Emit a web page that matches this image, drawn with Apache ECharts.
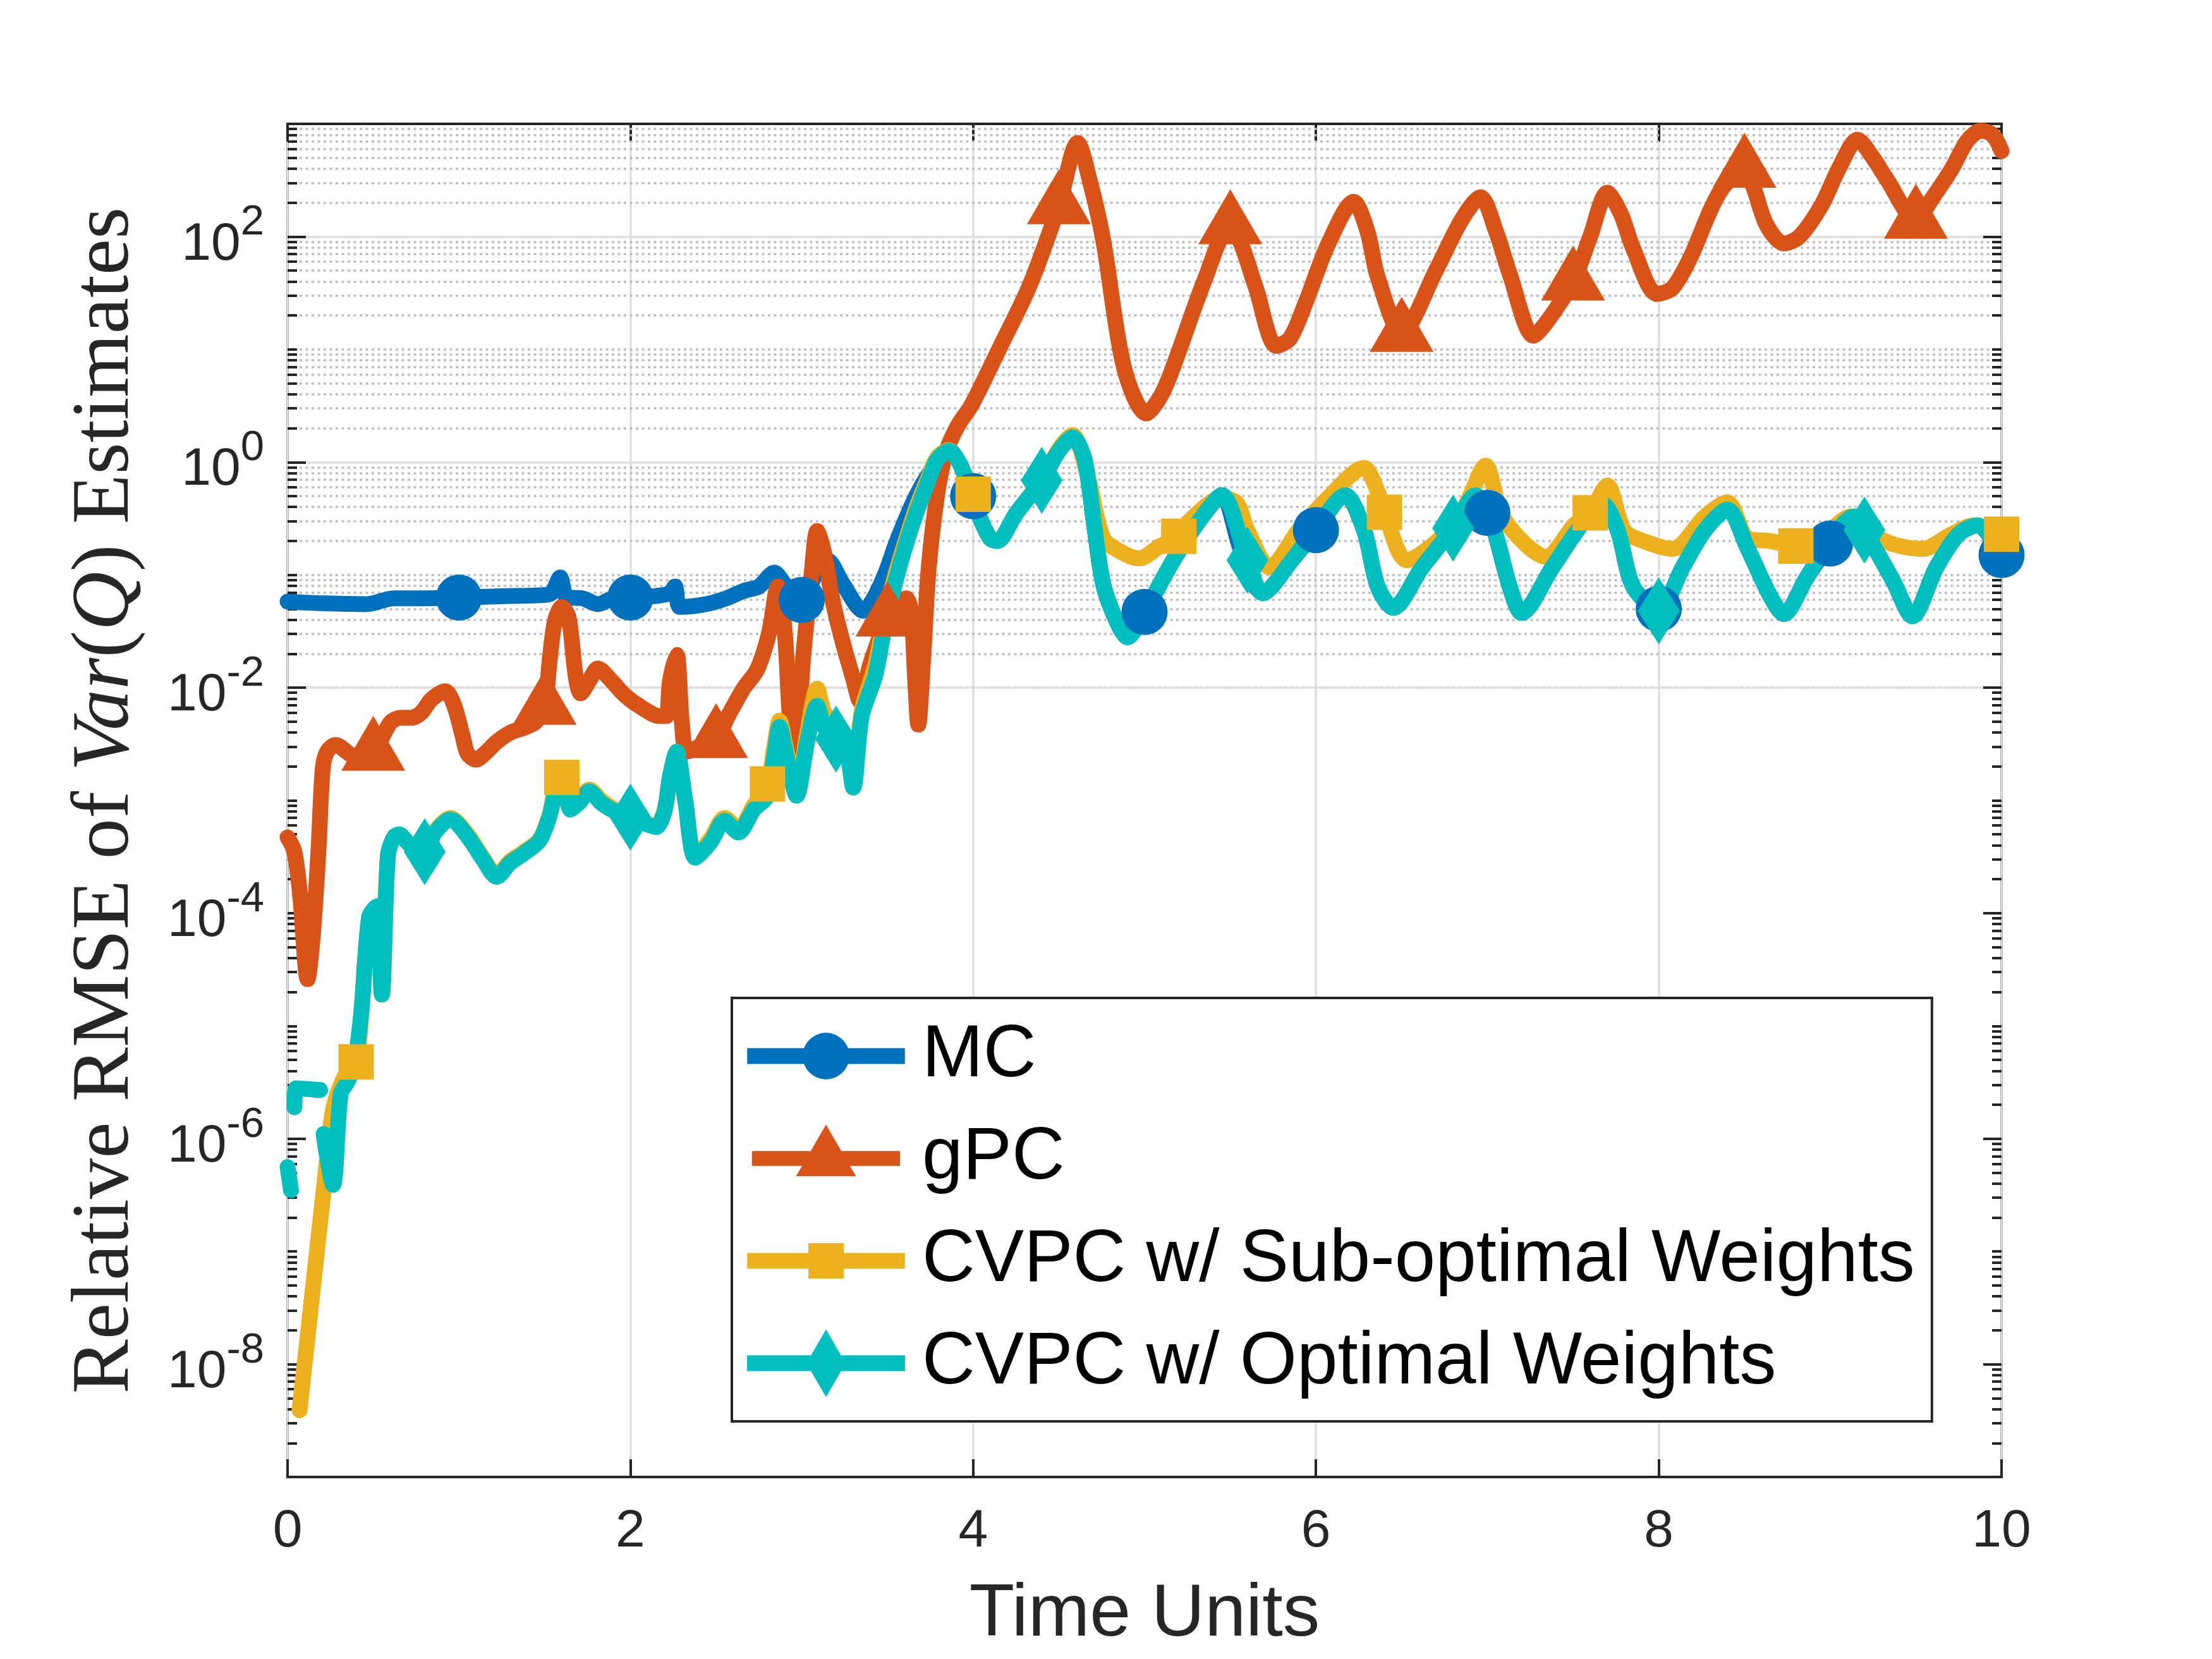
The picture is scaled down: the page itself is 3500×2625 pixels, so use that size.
<!DOCTYPE html>
<html>
<head>
<meta charset="utf-8">
<script src="https://cdn.jsdelivr.net/npm/echarts@6/dist/echarts.min.js"></script>
<style>html,body{margin:0;padding:0;background:#fff}#c{width:3500px;height:2625px}</style>
</head>
<body>
<div id="c"></div>
<script>
// ---------- data (time, relative RMSE) ----------
const seriesNames = ['MC', 'gPC', 'CVPC w/ Sub-optimal Weights', 'CVPC w/ Optimal Weights'];
const xTickValues = [0, 2, 4, 6, 8, 10];
const yLabelExponents = [-8, -6, -4, -2, 0, 2];

const mcData = [
[0,0.058],[0.2,0.056],[0.46,0.055],[0.62,0.062],[0.8,0.062],[1.0,0.063],[1.3,0.065],[1.47,0.066],[1.54,0.069],[1.59,0.095],[1.63,0.063],[1.72,0.062],[1.81,0.055],[1.9,0.062],[2.0,0.063],[2.15,0.065],[2.23,0.069],[2.26,0.079],[2.29,0.052],[2.44,0.055],[2.56,0.062],[2.66,0.072],[2.75,0.079],[2.84,0.105],[2.9,0.083],[3.0,0.060],[3.08,0.10],[3.15,0.135],[3.24,0.083],[3.36,0.048],[3.42,0.062],[3.49,0.105],[3.55,0.19],[3.61,0.32],[3.67,0.51],[3.74,0.78],[3.82,1.15],[3.86,1.23],[3.92,0.98],[4.0,0.5],[4.04,0.32],[4.10,0.21],[4.14,0.20],[4.25,0.35],[4.4,0.69],[4.5,1.26],[4.58,1.66],[4.65,1.05],[4.71,0.25],[4.76,0.081],[4.84,0.038],[4.90,0.028],[5.0,0.047],[5.18,0.145],[5.35,0.35],[5.45,0.51],[5.56,0.17],[5.69,0.069],[5.86,0.135],[6.0,0.25],[6.17,0.51],[6.28,0.25],[6.36,0.079],[6.45,0.051],[6.62,0.117],[6.8,0.26],[6.93,0.51],[7.0,0.355],[7.04,0.25],[7.13,0.079],[7.20,0.046],[7.38,0.117],[7.55,0.28],[7.67,0.43],[7.76,0.25],[7.85,0.079],[8.0,0.05],[8.14,0.117],[8.27,0.25],[8.40,0.38],[8.52,0.17],[8.65,0.065],[8.73,0.045],[8.86,0.093],[9.0,0.19],[9.14,0.33],[9.2,0.25],[9.37,0.087],[9.48,0.043],[9.62,0.117],[9.75,0.23],[9.86,0.275],[10.0,0.15]
];
const gpcData = [
[0,4.7e-4],[0.04,3.5e-4],[0.074,1.4e-4],[0.117,2.6e-5],[0.148,6.5e-5],[0.18,3.5e-4],[0.205,1.9e-3],[0.23,2.7e-3],[0.28,3.1e-3],[0.39,2.5e-3],[0.5,2.7e-3],[0.6,4.9e-3],[0.66,5.4e-3],[0.72,5.4e-3],[0.78,6.0e-3],[0.84,7.9e-3],[0.92,9.3e-3],[0.97,7.1e-3],[1.02,3.8e-3],[1.05,2.6e-3],[1.10,2.3e-3],[1.15,2.6e-3],[1.22,3.3e-3],[1.30,4.0e-3],[1.38,4.4e-3],[1.45,5.0e-3],[1.5,6.9e-3],[1.53,0.018],[1.56,0.039],[1.60,0.052],[1.64,0.042],[1.68,0.013],[1.71,8.9e-3],[1.76,0.0115],[1.81,0.0148],[1.89,0.0115],[1.97,8.5e-3],[2.07,6.6e-3],[2.17,5.6e-3],[2.21,5.6e-3],[2.23,0.0112],[2.27,0.0195],[2.30,5.0e-3],[2.33,2.7e-3],[2.4,3.0e-3],[2.5,3.5e-3],[2.57,5.6e-3],[2.66,9.8e-3],[2.74,0.0145],[2.81,0.031],[2.86,0.079],[2.90,0.032],[2.93,5.6e-3],[2.96,2.3e-3],[3.01,0.020],[3.06,0.112],[3.09,0.245],[3.13,0.158],[3.18,0.059],[3.24,0.025],[3.30,0.012],[3.34,7.6e-3],[3.40,0.0162],[3.5,0.042],[3.55,0.055],[3.61,0.062],[3.64,0.045],[3.66,0.013],[3.68,4.7e-3],[3.71,0.020],[3.74,0.112],[3.79,0.51],[3.84,1.2],[3.91,2.1],[3.99,3.2],[4.16,10.7],[4.33,37],[4.5,190],[4.61,676],[4.68,316],[4.76,91],[4.88,6.9],[5.01,2.7],[5.10,4.0],[5.18,7.9],[5.35,41],[5.5,126],[5.56,89],[5.65,35],[5.77,10.7],[5.85,12.6],[5.94,26],[6.07,85],[6.22,204],[6.30,112],[6.36,44],[6.5,14],[6.70,50],[6.85,141],[6.96,224],[7.05,112],[7.13,47],[7.27,13.2],[7.35,17.8],[7.5,40],[7.60,100],[7.70,245],[7.78,158],[7.85,79],[7.99,31],[8.08,35],[8.18,63],[8.35,240],[8.5,400],[8.55,282],[8.63,126],[8.73,87],[8.82,100],[8.95,190],[9.05,400],[9.16,724],[9.25,500],[9.33,324],[9.5,141],[9.6,224],[9.71,400],[9.80,708],[9.88,871],[9.95,794],[10.0,575]
];
const subData = [
[0.07,3.9e-9],[0.22,4.7e-7],[0.265,1.8e-6],[0.33,3.5e-6],[0.4,4.8e-6],[0.43,1.3e-5],[0.476,9.3e-5],[0.52,1.15e-4],[0.55,1.9e-5],[0.585,3.2e-4],[0.62,4.7e-4],[0.65,5.0e-4],[0.71,4.1e-4],[0.8,3.6e-4],[0.86,5.3e-4],[0.95,7.0e-4],[1.05,5.0e-4],[1.14,3.1e-4],[1.22,2.2e-4],[1.30,2.9e-4],[1.38,3.5e-4],[1.47,4.5e-4],[1.53,7.6e-4],[1.56,1.25e-3],[1.6,1.6e-3],[1.62,1.5e-3],[1.65,9.0e-4],[1.70,1.0e-3],[1.76,1.25e-3],[1.83,1.0e-3],[1.89,8.6e-4],[2.0,7.3e-4],[2.09,6.3e-4],[2.15,5.9e-4],[2.20,8.3e-4],[2.23,1.6e-3],[2.27,2.7e-3],[2.32,1.0e-3],[2.38,3.2e-4],[2.47,4.6e-4],[2.55,7.0e-4],[2.63,5.6e-4],[2.72,9.0e-4],[2.8,1.4e-3],[2.84,3.0e-3],[2.87,5.1e-3],[2.91,2.8e-3],[2.97,1.2e-3],[3.03,3.8e-3],[3.09,9.8e-3],[3.13,6.0e-3],[3.17,5.2e-3],[3.21,2.8e-3],[3.26,3.0e-3],[3.30,1.4e-3],[3.35,6.2e-3],[3.43,0.016],[3.49,0.046],[3.55,0.105],[3.61,0.21],[3.67,0.40],[3.73,0.68],[3.79,1.1],[3.86,1.28],[3.92,0.98],[4.0,0.52],[4.04,0.32],[4.10,0.21],[4.14,0.20],[4.25,0.35],[4.4,0.7],[4.5,1.3],[4.58,1.74],[4.67,0.74],[4.76,0.21],[4.88,0.155],[4.97,0.14],[5.09,0.18],[5.2,0.22],[5.26,0.30],[5.45,0.48],[5.54,0.43],[5.60,0.25],[5.73,0.117],[5.90,0.25],[6.07,0.48],[6.28,0.89],[6.36,0.55],[6.4,0.36],[6.53,0.135],[6.70,0.195],[6.87,0.41],[6.99,0.93],[7.08,0.35],[7.21,0.195],[7.34,0.145],[7.51,0.28],[7.6,0.355],[7.70,0.62],[7.80,0.245],[7.93,0.195],[8.08,0.17],[8.27,0.33],[8.40,0.44],[8.52,0.21],[8.65,0.20],[8.8,0.18],[8.99,0.245],[9.12,0.33],[9.29,0.21],[9.41,0.18],[9.54,0.17],[9.71,0.23],[9.84,0.275],[10.0,0.23]
];
const optData = [
[0,5.6e-7],[0.02,3.5e-7],[0.03,null],[0.04,1.9e-6],[0.05,2.8e-6],[0.19,2.7e-6],[0.2,null],[0.21,1.1e-6],[0.265,3.9e-7],[0.31,2.5e-6],[0.35,3.2e-6],[0.39,4.6e-6],[0.43,1.3e-5],[0.476,9.3e-5],[0.52,1.15e-4],[0.55,1.9e-5],[0.585,3.2e-4],[0.62,4.7e-4],[0.65,5.0e-4],[0.71,4.1e-4],[0.8,3.5e-4],[0.86,5.2e-4],[0.95,6.8e-4],[1.05,4.8e-4],[1.14,3.0e-4],[1.22,2.1e-4],[1.30,2.8e-4],[1.38,3.4e-4],[1.47,4.4e-4],[1.53,7.4e-4],[1.56,1.2e-3],[1.59,1.9e-3],[1.62,1.4e-3],[1.65,8.3e-4],[1.70,9.5e-4],[1.76,1.2e-3],[1.83,9.5e-4],[1.89,8.3e-4],[2.0,7.1e-4],[2.09,6.2e-4],[2.15,5.8e-4],[2.20,8.1e-4],[2.23,1.6e-3],[2.27,2.7e-3],[2.32,1.0e-3],[2.38,3.1e-4],[2.47,4.3e-4],[2.55,6.6e-4],[2.63,5.2e-4],[2.72,8.3e-4],[2.80,1.1e-3],[2.84,2.5e-3],[2.87,4.5e-3],[2.91,2.5e-3],[2.97,1.1e-3],[3.03,3.2e-3],[3.09,6.9e-3],[3.13,4.5e-3],[3.2,3.5e-3],[3.26,2.8e-3],[3.30,1.3e-3],[3.35,5.6e-3],[3.43,0.013],[3.49,0.039],[3.55,0.091],[3.61,0.19],[3.67,0.36],[3.73,0.63],[3.79,1.05],[3.86,1.26],[3.92,0.98],[3.98,0.58],[4.04,0.32],[4.10,0.21],[4.14,0.20],[4.25,0.35],[4.4,0.69],[4.5,1.26],[4.58,1.66],[4.65,1.05],[4.71,0.25],[4.76,0.081],[4.84,0.038],[4.90,0.028],[5.0,0.047],[5.18,0.145],[5.35,0.35],[5.45,0.51],[5.6,0.135],[5.69,0.069],[5.86,0.135],[6.03,0.30],[6.17,0.51],[6.28,0.25],[6.36,0.079],[6.45,0.051],[6.62,0.117],[6.8,0.26],[6.93,0.51],[7.04,0.25],[7.13,0.079],[7.20,0.046],[7.38,0.117],[7.55,0.28],[7.67,0.43],[7.76,0.25],[7.85,0.079],[8.0,0.048],[8.14,0.117],[8.27,0.25],[8.40,0.38],[8.52,0.17],[8.65,0.065],[8.73,0.045],[8.86,0.093],[8.99,0.195],[9.14,0.33],[9.2,0.25],[9.37,0.087],[9.48,0.043],[9.62,0.117],[9.75,0.23],[9.86,0.275],[10.0,0.16]
];

// times at which each curve carries a marker
const mcMarkerTimes  = [1,2,3,4,5,6,7,8,9,10];
const gpcMarkerTimes = [0.5,1.5,2.5,3.5,4.5,5.5,6.5,7.5,8.5,9.5];
const subMarkerTimes = [0.4,1.6,2.8,4.0,5.2,6.4,7.6,8.8,10.0];
const optMarkerTimes = [0.8,2.0,3.2,4.4,5.6,6.8,8.0,9.2];

// ---------- styling / layout ----------
const COLORS = ['#0072BD', '#D95319', '#EDB120', '#00BFBF'];
const G = {left: 455, top: 196, width: 2712, height: 2141};
const AX = '#262626';
const LW = 25;

const Y_MIN_EXP = -9, Y_MAX_EXP = 3;
const majorGridVals = yLabelExponents.map(e => Math.pow(10, e));
const minorGridVals = [];
for (let k = Y_MIN_EXP; k < Y_MAX_EXP; k++) {
  for (let m = 2; m <= 9; m++) minorGridVals.push(m * Math.pow(10, k));
  if (k > Y_MIN_EXP && Math.abs(k) % 2 === 1) minorGridVals.push(Math.pow(10, k));
}

function tickSegs(vals, len) {
  const out = [];
  vals.forEach(v => {
    out.push([{coord: [0, v], x: G.left}, {coord: [0, v], x: G.left + len}]);
    out.push([{coord: [10, v], x: G.left + G.width - len}, {coord: [10, v], x: G.left + G.width}]);
  });
  return out;
}

function isMark(val, times) {
  return val && val[1] != null && times.some(t => Math.abs(t - val[0]) < 1e-6);
}

function dataSeries(idx, data, shape, size, times, offset) {
  return {
    name: seriesNames[idx], type: 'line', data: data,
    xAxisIndex: 0, yAxisIndex: 0, z: 3,
    smooth: 0.3,
    symbol: function (v) { return isMark(v, times) ? shape : 'none'; },
    symbolSize: size, symbolOffset: offset || [0, 0],
    showSymbol: true, showAllSymbol: true, connectNulls: false, clip: true,
    lineStyle: {color: COLORS[idx], width: LW, cap: 'round', join: 'round'},
    itemStyle: {color: COLORS[idx], borderWidth: 0},
    emphasis: {disabled: true}, silent: true, animation: false
  };
}

const legendIcons = [
  'path://M0,-12.5 H250 V12.5 H0 Z M162,0 A37,37 0 1,1 88,0 A37,37 0 1,1 162,0 Z M124.9,-53.5 L125.1,-53.5 L125,-53.6 Z M124.9,53.5 L125.1,53.5 L125,53.6 Z',
  'path://M0,-12.5 H250 V12.5 H0 Z M125,-57 L175.5,30 L74.5,30 Z M124.9,57 L125.1,57 L125,57.1 Z',
  'path://M0,-12.5 H250 V12.5 H0 Z M97,-28 H153 V28 H97 Z M124.9,-53.5 L125.1,-53.5 L125,-53.6 Z M124.9,53.5 L125.1,53.5 L125,53.6 Z',
  'path://M0,-12.5 H250 V12.5 H0 Z M125,-53.5 L156,0 L125,53.5 L94,0 Z'
];

const chart = echarts.init(document.getElementById('c'), null, {width: 3500, height: 2625, renderer: 'canvas'});

const serifName = {fontFamily: 'Liberation Serif', fontSize: 129, lineHeight: 129, color: AX};

const option = {
  animation: false,
  backgroundColor: '#ffffff',
  textStyle: {fontFamily: 'Liberation Sans'},
  grid: {left: G.left, top: G.top, width: G.width, height: G.height, show: true,
         borderColor: AX, borderWidth: 4, backgroundColor: 'transparent', z: 0},
  xAxis: [{
    type: 'value', min: xTickValues[0], max: xTickValues[xTickValues.length - 1], interval: 2, position: 'bottom',
    axisLine: {show: false},
    axisTick: {show: true, inside: true, length: 28, lineStyle: {color: AX, width: 4}},
    axisLabel: {fontSize: 84, color: AX, margin: 45, lineHeight: 84, fontFamily: 'Liberation Sans'},
    splitLine: {show: true, lineStyle: {color: '#dfdfdf', width: 3.5}},
    name: 'Time Units', nameLocation: 'middle', nameGap: 160,
    nameTextStyle: {fontSize: 117, lineHeight: 117, color: AX, fontFamily: 'Liberation Sans'}
  }, {
    type: 'value', min: 0, max: 10, interval: 2, position: 'top',
    axisLine: {show: false},
    axisTick: {show: true, inside: true, length: 28, lineStyle: {color: AX, width: 4}},
    axisLabel: {show: false}, splitLine: {show: false}
  }],
  yAxis: [{
    type: 'log', logBase: 10, min: Math.pow(10, Y_MIN_EXP), max: Math.pow(10, Y_MAX_EXP), interval: 1,
    axisLine: {show: false}, axisTick: {show: false}, splitLine: {show: false}, minorTick: {show: false},
    axisLabel: {
      margin: 37, color: AX,
      formatter: function (v) {
        const e = Math.round(Math.log10(v));
        if (yLabelExponents.indexOf(e) < 0) return '';
        return '{b|10}{s|' + e + '}';
      },
      rich: {
        b: {fontSize: 84, lineHeight: 110, padding: [26, 0, 0, 0], verticalAlign: 'bottom', color: AX, fontFamily: 'Liberation Sans'},
        s: {fontSize: 67, lineHeight: 67, verticalAlign: 'top', color: AX, fontFamily: 'Liberation Sans'}
      }
    },
    name: '{n|Relative RMSE of }{i|Var}{n|(}{i|Q}{n|) Estimates}',
    nameLocation: 'middle', nameRotate: 90, nameGap: 222,
    nameTextStyle: {
      color: AX,
      rich: {
        n: serifName,
        i: Object.assign({}, serifName, {fontStyle: 'italic'})
      }
    }
  }],
  legend: {
    orient: 'vertical', left: 1158, top: 1579, padding: [34, 27, 34, 24], itemGap: 46,
    itemWidth: 250, itemHeight: 107, z: 20,
    backgroundColor: '#ffffff', borderColor: AX, borderWidth: 4, borderRadius: 0,
    selectedMode: false, itemStyle: {borderWidth: 0},
    textStyle: {fontSize: 116, color: '#000000', fontFamily: 'Liberation Sans', lineHeight: 107, padding: [0, 0, 0, 22]},
    data: seriesNames.map((n, i) => ({name: n, icon: legendIcons[i]}))
  },
  series: [
    {name: 'minorGrid', type: 'line', data: [], z: 1, silent: true,
     markLine: {silent: true, z: 1, symbol: ['none', 'none'], label: {show: false}, animation: false,
       lineStyle: {color: '#bdbdbd', width: 3.5, type: [4, 5.5]}, emphasis: {disabled: true},
       data: minorGridVals.map(v => ({yAxis: v}))}},
    {name: 'majorGrid', type: 'line', data: [], z: 1, silent: true,
     markLine: {silent: true, z: 1, symbol: ['none', 'none'], label: {show: false}, animation: false,
       lineStyle: {color: '#dfdfdf', width: 3.5, type: 'solid'}, emphasis: {disabled: true},
       data: majorGridVals.map(v => ({yAxis: v}))}},
    {name: 'yTicks', type: 'line', data: [], z: 1, silent: true,
     markLine: {silent: true, z: 1, symbol: ['none', 'none'], label: {show: false}, animation: false,
       lineStyle: {color: AX, width: 4, type: 'solid'}, emphasis: {disabled: true},
       data: tickSegs(majorGridVals, 29).concat(tickSegs(minorGridVals, 15))}},
    dataSeries(0, mcData, 'circle', 73, mcMarkerTimes),
    dataSeries(1, gpcData, 'triangle', [101, 87], gpcMarkerTimes, [0, -13.5]),
    dataSeries(2, subData, 'rect', 56, subMarkerTimes),
    dataSeries(3, optData, 'diamond', [66, 106], optMarkerTimes)
  ]
};
chart.setOption(option);
</script>
</body>
</html>
